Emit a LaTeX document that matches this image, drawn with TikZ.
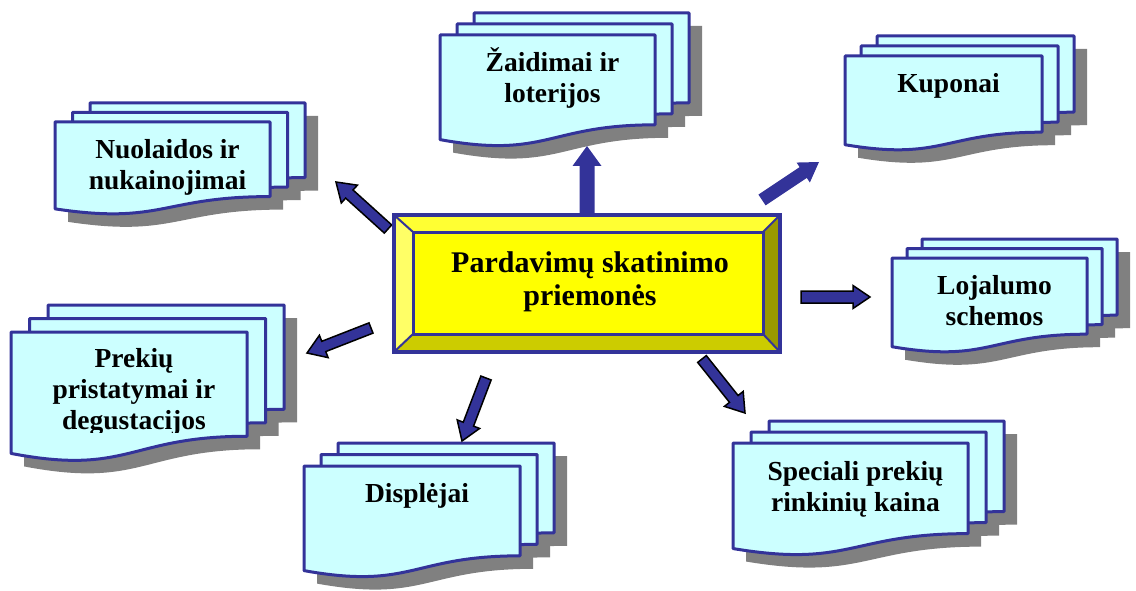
\documentclass[tikz,border=0pt]{standalone}
\usepackage{fontspec}
\setmainfont{Liberation Serif}
\usetikzlibrary{calc}

\definecolor{navy}{HTML}{333399}
\definecolor{paper}{HTML}{CCFFFF}
\definecolor{shade}{HTML}{808080}
\definecolor{face}{HTML}{FFFF00}
\definecolor{bevtop}{HTML}{FFFF33}
\definecolor{bevleft}{HTML}{FFFF66}
\definecolor{bevbottom}{HTML}{CCCC00}
\definecolor{bevright}{HTML}{999900}

\tikzset{
  pagestyle/.style={fill=paper, draw=navy, line width=3pt, line join=round},
  shadowstyle/.style={fill=shade},
  doctext/.style={font=\fontsize{27.5}{31}\selectfont\bfseries, align=center, inner sep=0pt, anchor=north},
  maintext/.style={font=\fontsize{30}{33}\selectfont\bfseries, align=center, inner sep=0pt, anchor=north},
  barrow/.style={fill=navy, draw=black, line width=1.5pt, line join=miter},
  barrowplain/.style={fill=navy},
}

% one sheet with a wavy lower edge: style, left, top, width, height
\newcommand\docpage[5]{%
  \path[#1] ({#2},{#3}) -- ({#2+#4},{#3}) -- ({#2+#4},{#3+0.802*(#5)})
    .. controls ({#2+0.5*(#4)},{#3+0.802*(#5)}) and ({#2+0.5*(#4)},{#3+1.1075*(#5)})
    .. ({#2},{#3+0.934*(#5)}) -- cycle;}

% stack of three sheets with a drop shadow: left, top, width, height, dx, dy
\newcommand\docstack[6]{%
  \foreach \k in {2,1,0}{\docpage{shadowstyle}{#1+\k*(#5)+13}{#2+\k*(#6)+13}{#3}{#4}}
  \foreach \k in {2,1,0}{\docpage{pagestyle}{#1+\k*(#5)}{#2+\k*(#6)}{#3}{#4}}}

% block arrow: [style]{tail}{tip}{half shaft}{half head}{head length}
\newcommand\blockarrow[6][barrow]{%
  \coordinate (#2-base) at ($(#3)!#6!(#2)$);
  \path[#1] ($(#2)!#4!90:(#3)$) -- ($(#2-base)!#4!90:(#3)$) -- ($(#2-base)!#5!90:(#3)$)
    -- (#3) -- ($(#2-base)!#5!-90:(#3)$) -- ($(#2-base)!#4!-90:(#3)$)
    -- ($(#2)!#4!-90:(#3)$) -- cycle;}

\newcommand\hstrut[1]{\rule{0pt}{#1}}

\begin{document}
\begin{tikzpicture}[x=1pt, y=-1pt]
\useasboundingbox (0,0) rectangle (1136,591);

% sheet stacks
\docstack{440}{35}{215}{112}{17}{-11}
\docstack{55}{122}{215}{93}{17.5}{-9.5}
\docstack{845}{56}{197}{95}{16}{-10}
\docstack{892}{258}{195}{95}{15}{-9.5}
\docstack{11}{332}{236}{130}{18.5}{-13.5}
\docstack{304}{466}{216}{112}{17}{-11.5}
\docstack{733}{443}{235}{113}{18}{-11}

% sheet labels
\node[doctext] (zaid) at (552.5,{35+36-26}) {\hstrut{26pt}Žaidimai ir\\loterijos};
\node[doctext] (nuol) at (167.5,{122+36-26}) {\hstrut{26pt}Nuolaidos ir\\nukainojimai};
\node[doctext] (kup)  at (948.5,{56+36-26}) {\hstrut{26pt}Kuponai};
\node[doctext] (loj)  at (994.5,{258+36-26}) {\hstrut{26pt}Lojalumo\\schemos};
\begin{scope}
  \clip (0,300) rectangle (300,432);
  \node[doctext] (prek) at (134,{332+35-26}) {\hstrut{26pt}Prekių\\pristatymai ir\\degustacijos};
\end{scope}
\node[doctext] (disp) at (417,{466+36-26}) {\hstrut{26pt}Displėjai};
\node[doctext] (spec) at (855.5,{443+37-26}) {\hstrut{26pt}Speciali prekių\\rinkinių kaina};

% arrow ends
\coordinate (t1) at (587,222);  \coordinate (h1) at (587,146);
\coordinate (t2) at (388,229);  \coordinate (h2) at (336,182);
\coordinate (t3) at (762,200);  \coordinate (h3) at (819,162);
\coordinate (t4) at (801,297);  \coordinate (h4) at (870,297);
\coordinate (t5) at (371,328);  \coordinate (h5) at (307,353);
\coordinate (t6) at (486,378);  \coordinate (h6) at (462,441);
\coordinate (t7) at (702,359);  \coordinate (h7) at (745,413);

\blockarrow[barrowplain]{t1}{h1}{7.5pt}{14.5pt}{20pt}
\blockarrow{t2}{h2}{5.5pt}{12pt}{18pt}
\blockarrow[barrowplain]{t3}{h3}{6.5pt}{12pt}{19pt}
\blockarrow{t4}{h4}{6pt}{11.5pt}{17pt}
\blockarrow{t5}{h5}{5.5pt}{12pt}{18pt}
\blockarrow{t6}{h6}{5.5pt}{12pt}{18pt}
\blockarrow{t7}{h7}{5.5pt}{12pt}{18pt}

% bevelled central panel
\fill[face] (413,232) rectangle (763,334);
\fill[bevtop] (394,215) -- (780,215) -- (763,232) -- (413,232) -- cycle;
\fill[bevleft] (394,215) -- (413,232) -- (413,334) -- (394,352) -- cycle;
\fill[bevbottom] (394,352) -- (413,334) -- (763,334) -- (780,352) -- cycle;
\fill[bevright] (780,215) -- (780,352) -- (763,334) -- (763,232) -- cycle;
\draw[navy, line width=2pt] (394,215) -- (413,232) (780,215) -- (763,232)
  (394,352) -- (413,334) (780,352) -- (763,334);
\draw[navy, line width=3pt] (413,232) rectangle (763,334);
\draw[navy, line width=4pt] (394,215) rectangle (780,352);
\node[maintext] (main) at (590,{272-28}) {\hstrut{28pt}Pardavimų skatinimo\\priemonės};
\end{tikzpicture}
\end{document}
